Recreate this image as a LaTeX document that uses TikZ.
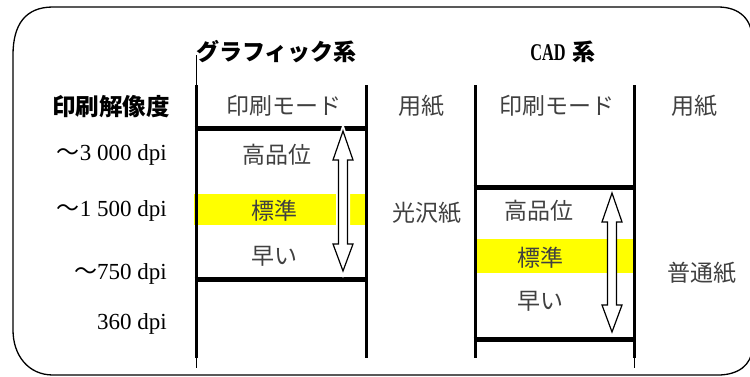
\documentclass[tikz,border=0pt]{standalone}
\usepackage{fontspec}
\setmainfont{Liberation Serif}
\newfontfamily\cjk{Noto Sans CJK JP}
\newfontfamily\narrowserif[FakeStretch=0.68]{Liberation Serif Bold}
\usetikzlibrary{calc}
\definecolor{txtgray}{HTML}{404040}
\definecolor{hiyel}{HTML}{FFFF00}
\tikzset{
  cj/.style={font=\cjk\fontsize{23}{23}\selectfont, text=txtgray, inner sep=0pt, anchor=center},
  dp/.style={font=\fontsize{23}{23}\selectfont, inner sep=0pt, anchor=east},
  ttl/.style={font=\cjk\bfseries\fontsize{23}{23}\selectfont, inner sep=0pt},
  vline/.style={line width=3pt},
  hline/.style={line width=5pt},
  thin/.style={line width=0.8pt},
  blockarrow/.style={draw=black, fill=white, line width=1.2pt, line join=miter},
}
\newcommand\dblarrow[4]{% cx, top, bottom, halo
  \ifx#4y%
  \draw[white, line width=5pt] (#1,#2) -- ({#1+10},{#2+29}) -- ({#1+4.5},{#2+29}) -- ({#1+4.5},{#3-27}) -- ({#1+10},{#3-27}) -- (#1,#3) -- ({#1-10},{#3-27}) -- ({#1-4.5},{#3-27}) -- ({#1-4.5},{#2+29}) -- ({#1-10},{#2+29}) -- cycle;\fi
  \draw[blockarrow] (#1,#2) -- ({#1+10},{#2+29}) -- ({#1+4.5},{#2+29}) -- ({#1+4.5},{#3-27}) -- ({#1+10},{#3-27}) -- (#1,#3) -- ({#1-10},{#3-27}) -- ({#1-4.5},{#3-27}) -- ({#1-4.5},{#2+29}) -- ({#1-10},{#2+29}) -- cycle;
}
\begin{document}
\begin{tikzpicture}[x=1pt,y=-1pt]
\useasboundingbox (0,0) rectangle (750,376);
% frame
\draw[line width=1.3pt] (13,330) -- (13,55) .. controls (13,25) and (25,7) .. (53,7) -- (718,7) .. controls (740,7) and (752,20) .. (752,38) -- (752,348) .. controls (752,365) and (738,375) .. (718,375) -- (53,375) .. controls (28,375) and (13,355) .. (13,330) -- cycle;
% yellow bands
\fill[hiyel] (194,194) rectangle (365,225);
\fill[hiyel] (475,239) rectangle (634,273);
% column coordinates
\coordinate (gLt) at (196,85);
\coordinate (gLb) at (196,358);
\coordinate (gLtt) at (196,55);
\coordinate (gLbb) at (196,368);
\coordinate (gRt) at (366,85);
\coordinate (gRb) at (366,358);
\coordinate (cLt) at (475,85);
\coordinate (cLb) at (475,358);
\coordinate (cRt) at (634,85);
\coordinate (cRb) at (634,358);
\coordinate (cRbb) at (634,368);
\coordinate (gH1a) at (196,128); \coordinate (gH1b) at (366,128);
\coordinate (gH2a) at (196,279); \coordinate (gH2b) at (366,279);
\coordinate (cH1a) at (475,187); \coordinate (cH1b) at (634,187);
\coordinate (cH2a) at (475,339); \coordinate (cH2b) at (634,339);
\draw[vline] (gLt) -- (gLb);
\draw[vline] (gRt) -- (gRb);
\draw[vline] (cLt) -- (cLb);
\draw[vline] (cRt) -- (cRb);
\draw[thin] (gLtt) -- (gLt);
\draw[thin] (gLb) -- (gLbb);
\draw[thin] (cRb) -- (cRbb);
\draw[hline] ([xshift=-1.5pt]gH1a) -- ([xshift=1.5pt]gH1b);
\draw[hline] ([xshift=-1.5pt]gH2a) -- ([xshift=1.5pt]gH2b);
\draw[hline] ([xshift=-1.5pt]cH1a) -- ([xshift=1.5pt]cH1b);
\draw[hline] ([xshift=-1.5pt]cH2a) -- ([xshift=1.5pt]cH2b);
% arrows
\dblarrow{343}{131}{271}{y}
\dblarrow{612}{193}{332}{n}
% titles
\node[ttl, anchor=west] (tg) at (196,52) {グラフィック系};
\node[ttl] (tc) at (563,52) {{\narrowserif\fontsize{24}{24}\selectfont CAD}\kern7pt 系};
% headers
\node[font=\cjk\bfseries\fontsize{23.5}{23.5}\selectfont, inner sep=0pt] (hres) at (111,107) {印刷解像度};
\node[cj] (hgm) at (284,106) {印刷モード};
\node[cj] (hgp) at (421,106) {用紙};
\node[cj] (hcm) at (557,106) {印刷モード};
\node[cj] (hcp) at (694,106) {用紙};
% dpi
\node[dp] (d1) at (167,155) {{\cjk ～}3 000 dpi};
\node[dp] (d2) at (167,211) {{\cjk ～}1 500 dpi};
\node[dp] (d3) at (167,274) {{\cjk ～}750 dpi};
\node[dp] (d4) at (167,324) {360 dpi};
% graphic column
\node[cj] (g1) at (277,155) {高品位};
\node[cj] (g2) at (274,211) {標準};
\node[cj] (g3) at (274,256) {早い};
\node[cj] (gp) at (427,213) {光沢紙};
% CAD column
\node[cj] (c1) at (539,211) {高品位};
\node[cj] (c2) at (540,258) {標準};
\node[cj] (c3) at (540,301) {早い};
\node[cj] (cp) at (702,273) {普通紙};
\end{tikzpicture}
\end{document}
